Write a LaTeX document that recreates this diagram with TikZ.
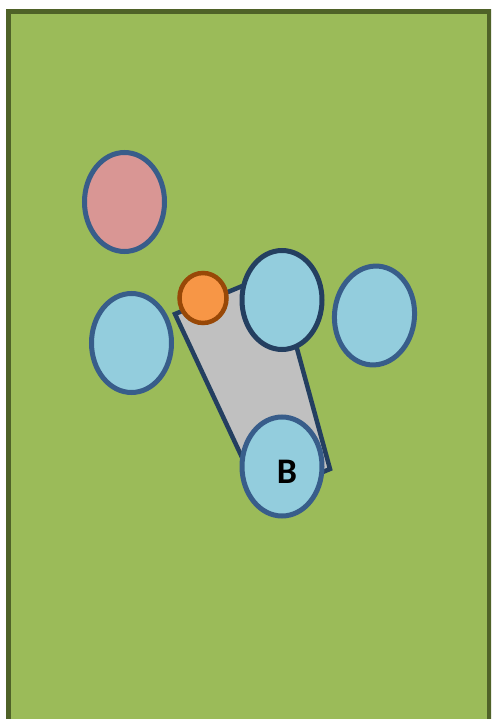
\documentclass[tikz,border=0pt]{standalone}
\usepackage{fontspec}
\setmainfont{Carlito}
\usetikzlibrary{shapes.geometric}
\definecolor{bggreen}{HTML}{9BBB59}
\definecolor{bgedge}{HTML}{4F6228}
\definecolor{pinkfill}{HTML}{D99694}
\definecolor{aquafill}{HTML}{93CDDD}
\definecolor{blueedge}{HTML}{385D8A}
\definecolor{navyedge}{HTML}{243F60}
\definecolor{grayfill}{HTML}{C0C0C0}
\definecolor{orangefill}{HTML}{F79646}
\definecolor{orangeedge}{HTML}{984807}
\tikzset{
  blob/.style={ellipse, draw=blueedge, line width=5pt, minimum width=80pt, minimum height=99pt, inner sep=0pt},
  aqua/.style={blob, fill=aquafill},
  rosy/.style={blob, fill=pinkfill},
  dot/.style={ellipse, draw=orangeedge, fill=orangefill, line width=4.5pt, minimum width=47pt, minimum height=50pt, inner sep=0pt},
  plate/.style={draw=navyedge, fill=grayfill, line width=4.5pt, line join=miter},
}
\begin{document}
\begin{tikzpicture}[x=1pt,y=-1pt]
\useasboundingbox (0,0) rectangle (491,719);
\clip (0,0) rectangle (491,719);
\draw[fill=bggreen, draw=bgedge, line width=5pt] (8.5,12) rectangle (489,760);
\node[rosy] (pink) at (124.5,202) {};
\node[aqua] (left) at (131.5,343) {};
\coordinate (p1) at (175,314);
\coordinate (p2) at (276,272);
\coordinate (p3) at (330,469);
\coordinate (p4) at (261,498);
\draw[plate] (p1) -- (p2) -- (p3) -- (p4) -- cycle;
\node[dot] (orange) at (203,298) {};
\node[aqua, draw=navyedge] (mid) at (282,300) {};
\node[aqua, rotate=-5] (right) at (374.5,315.5) {};
\node[aqua] (b) at (282,466.5) {};
\node[font=\fontsize{36}{40}\selectfont\bfseries, inner sep=0pt] (btext) at (287,472) {B};
\end{tikzpicture}
\end{document}
